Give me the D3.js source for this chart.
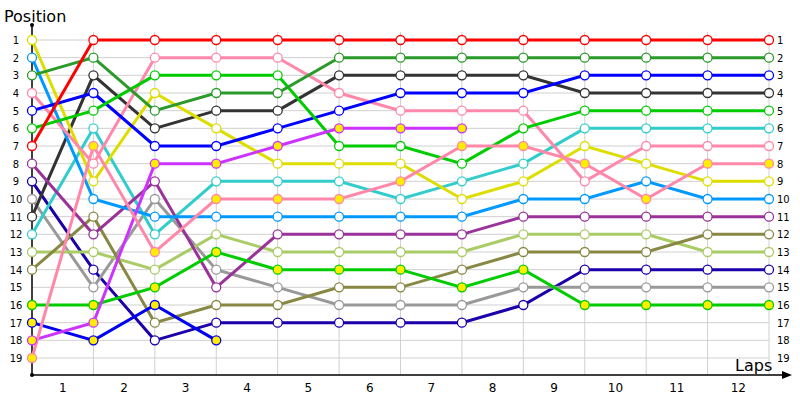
<!DOCTYPE html>
<html><head><meta charset="utf-8">
<script src="https://cdn.jsdelivr.net/npm/d3@7"></script>
<style>body{margin:0;background:#fff}svg{font-family:"DejaVu Sans",sans-serif}</style>
</head><body><svg id="c" width="800" height="400"></svg>
<script>
const laps = [1,2,3,4,5,6,7,8,9,10,11,12];
const positions = d3.range(1,20);
const names = ["darkblue","grey","black","cyan","lightgreen","olive","purple","lightblue","yellow","pink","blue","green","darkgreen","red","green16","blue17","magenta","pink2"];
const colors = ["#1a00aa","#999999","#333333","#33cccc","#aacc66","#888844","#993399","#0099ff","#dddd00","#ff88aa","#0000ff","#00cc00","#2a9a2a","#ff0000","#00cc00","#0000ee","#cc33ff","#ff88aa"];
const pitFill = [0,0,0,0,0,0,0,0,0,0,0,0,0,0,1,1,1,1];
const darkblue  = [9,14,18,17,17,17,17,17,16,14,14,14,14];
const grey      = [10,15,10,14,15,16,16,16,15,15,15,15,15];
const black     = [11,3,6,5,5,3,3,3,3,4,4,4,4];
const cyan      = [12,6,12,9,9,9,10,9,8,6,6,6,6];
const lightgreen= [13,13,14,12,13,13,13,13,12,12,12,13,13];
const olive     = [14,11,17,16,16,15,15,14,13,13,13,12,12];
const purple    = [8,12,9,15,12,12,12,12,11,11,11,11,11];
const lightblue = [2,10,11,11,11,11,11,11,10,10,9,10,10];
const yellow    = [1,9,4,6,8,8,8,10,9,7,8,9,9];
const pink      = [4,8,2,2,2,4,5,5,5,9,7,7,7];
const blue      = [5,4,7,7,6,5,4,4,4,3,3,3,3];
const green     = [6,5,3,3,3,7,7,8,6,5,5,5,5];
const darkgreen = [3,2,5,4,4,2,2,2,2,2,2,2,2];
const red       = [7,1,1,1,1,1,1,1,1,1,1,1,1];
const green16   = [16,16,15,13,14,14,14,15,14,16,16,16,16];
const blue17    = [17,18,16,18];
const magenta   = [18,17,8,8,7,6,6,6];
const pink2     = [19,7,13,10,10,10,9,7,7,8,10,8,8];
const series = [darkblue,grey,black,cyan,lightgreen,olive,purple,lightblue,yellow,pink,blue,green,darkgreen,red,green16,blue17,magenta,pink2];

const svg = d3.select("#c");
const x = d3.scaleLinear().domain([0,12]).range([32,769]);
const y = d3.scaleLinear().domain([1,19]).range([40,358]);

svg.append("g").selectAll("line").data(positions).join("line")
  .attr("x1",32).attr("x2",769).attr("y1",d=>y(d)).attr("y2",d=>y(d)).attr("stroke","#d0d0d0");
svg.append("g").selectAll("line").data(d3.range(1,13)).join("line")
  .attr("x1",d=>x(d)).attr("x2",d=>x(d)).attr("y1",y(1)-8).attr("y2",375).attr("stroke","#d0d0d0");

svg.append("line").attr("x1",32).attr("x2",32).attr("y1",25).attr("y2",375).attr("stroke","#000").attr("stroke-width",1.5);
svg.append("circle").attr("cx",32).attr("cy",25).attr("r",2);
svg.append("circle").attr("cx",32).attr("cy",375).attr("r",2);
svg.append("line").attr("x1",32).attr("x2",785).attr("y1",375).attr("y2",375).attr("stroke","#000").attr("stroke-width",1.5);
svg.append("path").attr("d","M782,371 L792,375 L782,379 Z");
svg.append("text").attr("x",4).attr("y",22).attr("font-size",16).text("Position");
svg.append("text").attr("x",735).attr("y",371).attr("font-size",16).text("Laps");

const lab = svg.append("g").attr("font-size",10).attr("fill","#000");
lab.selectAll(".l").data(positions).join("text").attr("x",16).attr("y",d=>y(d)+4).attr("text-anchor","middle").text(d=>d);
lab.selectAll(".r").data(positions).join("text").attr("x",777).attr("y",d=>y(d)+4).text(d=>d);
svg.append("g").attr("font-size",12).selectAll("text").data(laps).join("text")
  .attr("x",d=>x(d-0.5)).attr("y",392).attr("text-anchor","middle").text(d=>d);

const line = d3.line().x((d,i)=>x(i)).y(d=>y(d));
series.forEach((s,k)=>{
  svg.append("path").attr("d",line(s)).attr("fill","none").attr("stroke",colors[k]).attr("stroke-width",3);
});
series.forEach((s,k)=>{
  svg.append("g").selectAll("circle").data(s).join("circle")
    .attr("cx",(d,i)=>x(i)).attr("cy",d=>y(d)).attr("r",4.5)
    .attr("fill",pitFill[k]?"#ffee00":"#fff").attr("stroke",colors[k]).attr("stroke-width",1.3);
});
</script></body></html>
